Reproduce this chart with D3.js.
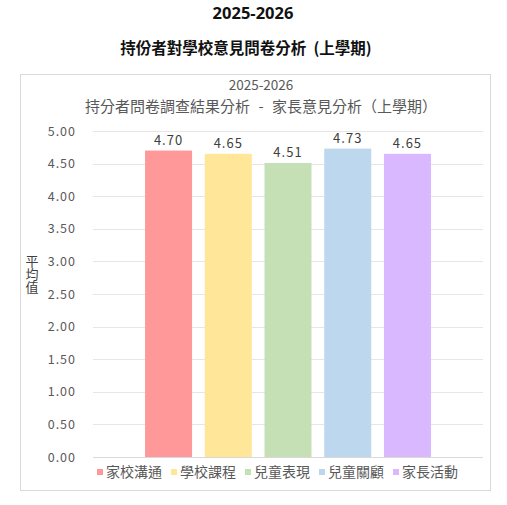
<!DOCTYPE html>
<html>
<head>
<meta charset="utf-8">
<script src="https://cdn.jsdelivr.net/npm/d3@7"></script>
<style>
  body { margin: 0; background: #fff; }
  svg { display: block; }
</style>
</head>
<body>
<svg id="chart" width="507" height="505"></svg>
<script>
// data
let pageTitle = "2025-2026"
let pageSubtitle = "持份者對學校意見問卷分析  (上學期)"
let chartTitle = ["2025-2026", "持分者問卷調查結果分析 - 家長意見分析（上學期）"]
let yLabel = "平均值"
let category = ["家長意見"]
let series = ["家校溝通", "學校課程", "兒童表現", "兒童關顧", "家長活動"]
let values = [4.70, 4.65, 4.51, 4.73, 4.65]
let yTicks = [0, 0.5, 1, 1.5, 2, 2.5, 3, 3.5, 4, 4.5, 5]
let colors = ["#ff9999", "#ffe699", "#c5e0b4", "#bdd7ee", "#d9b8ff"]

let svg = d3.select("#chart")
let cjk = "'Noto Sans CJK TC', 'Noto Sans', sans-serif"
let grey = "#595959"

// page titles
svg.append("text")
    .attr("x", 253).attr("y", 19)
    .attr("text-anchor", "middle")
    .attr("font-family", "'Open Sans', " + cjk)
    .attr("font-weight", "bold")
    .attr("font-size", 16.5)
    .attr("fill", "#111")
    .text(pageTitle)

svg.append("text")
    .attr("x", 246).attr("y", 54)
    .attr("text-anchor", "middle")
    .attr("font-family", cjk)
    .attr("font-weight", "bold")
    .attr("font-size", 15.5)
    .attr("fill", "#111")
    .attr("xml:space", "preserve")
    .style("white-space", "pre")
    .text(pageSubtitle)

// chart frame
svg.append("rect")
    .attr("x", 20.5).attr("y", 74.5)
    .attr("width", 470).attr("height", 416)
    .attr("fill", "#fff")
    .attr("stroke", "#d9d9d9")

svg.selectAll(".ctitle")
  .data(chartTitle)
  .enter()
  .append("text")
    .attr("x", 261)
    .attr("y", (d, i) => 90 + i * 22)
    .attr("text-anchor", "middle")
    .attr("font-family", cjk)
    .attr("font-size", (d, i) => i == 0 ? 13.5 : 15)
    .attr("word-spacing", (d, i) => i == 0 ? 0 : 5)
    .attr("fill", grey)
    .text(d => d)

// scales
let y = d3.scaleLinear()
      .domain([0, 5])
      .range([457, 131])

let x0 = d3.scaleBand()
      .domain(category)
      .range([93, 483])
      .paddingOuter(0.182)
      .paddingInner(0)

let x1 = d3.scaleBand()
      .domain(series)
      .range([0, x0.bandwidth()])
      .paddingInner(0.213)
      .paddingOuter(0)

// gridlines
svg.selectAll(".grid")
  .data(yTicks)
  .enter()
  .append("line")
    .attr("x1", 93).attr("x2", 483)
    .attr("y1", d => Math.round(y(d)) + 0.5)
    .attr("y2", d => Math.round(y(d)) + 0.5)
    .attr("stroke", d => d == 0 ? "#d9d9d9" : "#e6e6e6")

// y axis labels
let yAxis = d3.axisLeft(y)
      .tickValues(yTicks)
      .tickFormat(d3.format(".2f"))
      .tickSize(0)
      .tickPadding(0)

let ya = svg.append("g")
    .attr("transform", "translate(76,0)")
    .call(yAxis)
ya.select(".domain").remove()
ya.selectAll("text")
    .attr("font-family", cjk)
    .attr("font-size", 12.5)
    .attr("letter-spacing", 1)
    .attr("fill", grey)

// y title, written vertically
svg.append("text")
    .attr("x", 32)
    .attr("y", 255)
    .attr("font-family", cjk)
    .attr("font-size", 13)
    .attr("fill", "#404040")
    .style("writing-mode", "vertical-rl")
    .style("text-orientation", "upright")
    .text(yLabel)

// bars
let bars = svg.append("g")
    .attr("transform", `translate(${x0(category[0])},0)`)

bars.selectAll("rect")
  .data(values)
  .enter()
  .append("rect")
    .attr("x", (d, i) => x1(series[i]))
    .attr("width", x1.bandwidth())
    .attr("y", d => y(d))
    .attr("height", d => y(0) - y(d))
    .attr("fill", (d, i) => colors[i])

bars.selectAll(".lbl")
  .data(values)
  .enter()
  .append("text")
    .attr("x", (d, i) => x1(series[i]) + x1.bandwidth() / 2)
    .attr("y", d => y(d) - 6)
    .attr("text-anchor", "middle")
    .attr("font-family", cjk)
    .attr("font-size", 13)
    .attr("letter-spacing", 1)
    .attr("fill", "#404040")
    .text(d => d3.format(".2f")(d))

// legend
let legend = svg.append("g").selectAll("g")
  .data(series)
  .enter()
  .append("g")
    .attr("transform", (d, i) => `translate(${97 + i * 74},472)`)

legend.append("rect")
    .attr("x", 0).attr("y", -3)
    .attr("width", 6).attr("height", 6)
    .attr("fill", (d, i) => colors[i])

legend.append("text")
    .attr("x", 9).attr("y", 5)
    .attr("font-family", cjk)
    .attr("font-size", 14)
    .attr("fill", grey)
    .text(d => d)
</script>
</body>
</html>
